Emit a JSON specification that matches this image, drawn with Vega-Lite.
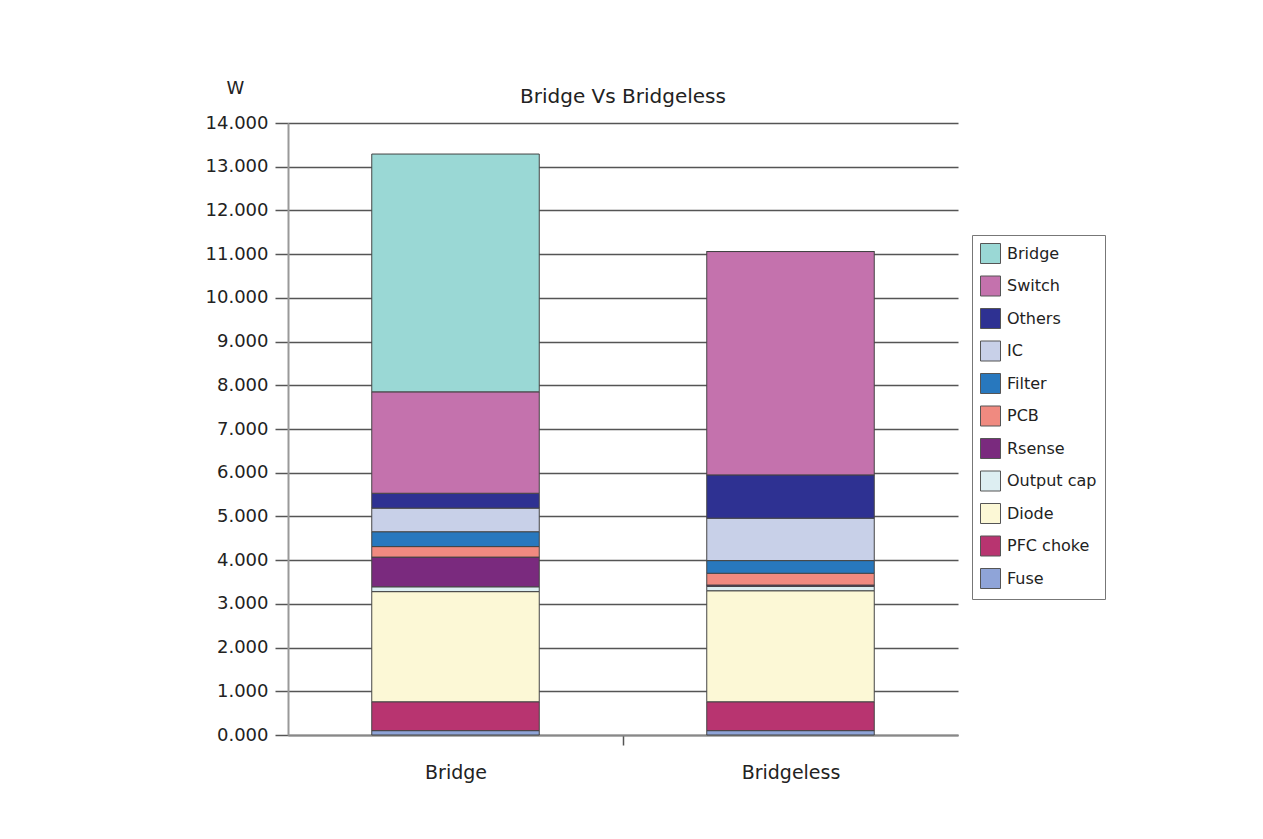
{
  "$schema": "https://vega.github.io/schema/vega-lite/v6.json",
  "autosize": {"type": "none"},
  "width": 670,
  "height": 612,
  "padding": {"left": 288, "top": 123, "right": 305, "bottom": 104},
  "background": "white",
  "title": {
    "text": "Bridge Vs Bridgeless",
    "font": "DejaVu Sans",
    "fontSize": 20,
    "fontWeight": "normal",
    "color": "#222",
    "anchor": "middle",
    "offset": -28
  },
  "data": {
    "values": [
      {"design": "Bridge", "component": "Fuse", "watts": 0.10},
      {"design": "Bridge", "component": "PFC choke", "watts": 0.66},
      {"design": "Bridge", "component": "Diode", "watts": 2.52},
      {"design": "Bridge", "component": "Output cap", "watts": 0.11},
      {"design": "Bridge", "component": "Rsense", "watts": 0.68},
      {"design": "Bridge", "component": "PCB", "watts": 0.24},
      {"design": "Bridge", "component": "Filter", "watts": 0.34},
      {"design": "Bridge", "component": "IC", "watts": 0.54},
      {"design": "Bridge", "component": "Others", "watts": 0.34},
      {"design": "Bridge", "component": "Switch", "watts": 2.32},
      {"design": "Bridge", "component": "Bridge", "watts": 5.44},
      {"design": "Bridgeless", "component": "Fuse", "watts": 0.10},
      {"design": "Bridgeless", "component": "PFC choke", "watts": 0.66},
      {"design": "Bridgeless", "component": "Diode", "watts": 2.54},
      {"design": "Bridgeless", "component": "Output cap", "watts": 0.10},
      {"design": "Bridgeless", "component": "Rsense", "watts": 0.03},
      {"design": "Bridgeless", "component": "PCB", "watts": 0.27},
      {"design": "Bridgeless", "component": "Filter", "watts": 0.29},
      {"design": "Bridgeless", "component": "IC", "watts": 0.97},
      {"design": "Bridgeless", "component": "Others", "watts": 0.99},
      {"design": "Bridgeless", "component": "Switch", "watts": 5.11},
      {"design": "Bridgeless", "component": "Bridge", "watts": 0.0}
    ]
  },
  "transform": [
    {"calculate": "indexof(['Fuse', 'PFC choke', 'Diode', 'Output cap', 'Rsense', 'PCB', 'Filter', 'IC', 'Others', 'Switch', 'Bridge'], datum.component)", "as": "stackOrder"}
  ],
  "mark": {"type": "bar", "stroke": "#444", "strokeWidth": 1},
  "encoding": {
    "x": {
      "field": "design",
      "type": "nominal",
      "scale": {"paddingInner": 0.5, "paddingOuter": 0.25},
      "axis": {
        "title": null,
        "labelAngle": 0,
        "labelFont": "DejaVu Sans",
        "labelFontSize": 19,
        "labelColor": "#222",
        "labelPadding": 18,
        "tickOffset": 167.5,
        "labelOffset": -167.5,
        "tickSize": 10,
        "tickColor": "#555",
        "tickOpacity": {"condition": {"test": "datum.value === 'Bridgeless'", "value": 0}, "value": 1},
        "tickWidth": 1.5,
        "domainColor": "#888",
        "domainWidth": 2
      }
    },
    "y": {
      "field": "watts",
      "type": "quantitative",
      "stack": "zero",
      "scale": {"domain": [0, 14], "nice": false},
      "axis": {
        "title": "W",
        "titleAngle": 0,
        "titleX": -53,
        "titleY": -35,
        "titleAlign": "center",
        "titleBaseline": "middle",
        "titleFont": "DejaVu Sans",
        "titleFontSize": 18,
        "titleFontWeight": "normal",
        "titleColor": "#222",
        "values": [0, 1, 2, 3, 4, 5, 6, 7, 8, 9, 10, 11, 12, 13, 14],
        "format": ".3f",
        "labelFont": "DejaVu Sans",
        "labelFontSize": 18,
        "labelColor": "#222",
        "labelPadding": 7,
        "tickSize": 13,
        "tickColor": "#555",
        "tickWidth": 1.5,
        "grid": true,
        "gridColor": "#555",
        "gridWidth": 1.5,
        "domainColor": "#999",
        "domainWidth": 2
      }
    },
    "order": {"field": "stackOrder", "type": "quantitative", "sort": "ascending"},
    "color": {
      "field": "component",
      "type": "nominal",
      "sort": ["Bridge", "Switch", "Others", "IC", "Filter", "PCB", "Rsense", "Output cap", "Diode", "PFC choke", "Fuse"],
      "scale": {
        "domain": ["Bridge", "Switch", "Others", "IC", "Filter", "PCB", "Rsense", "Output cap", "Diode", "PFC choke", "Fuse"],
        "range": ["#9ad8d5", "#c472ad", "#2e3192", "#c8d0e8", "#2878be", "#f08a80", "#7a2a7e", "#ddeef2", "#fcf8d6", "#b83470", "#8fa4d8"]
      },
      "legend": {
        "title": null,
        "orient": "none",
        "legendX": 684,
        "legendY": 112,
        "symbolType": "square",
        "symbolSize": 400,
        "symbolStrokeColor": "#555",
        "symbolStrokeWidth": 1,
        "labelFont": "DejaVu Sans",
        "labelFontSize": 16,
        "labelColor": "#222",
        "labelOffset": 6,
        "rowPadding": 7.5,
        "padding": 8,
        "strokeColor": "#777"
      }
    }
  },
  "config": {"view": {"stroke": null}}
}
